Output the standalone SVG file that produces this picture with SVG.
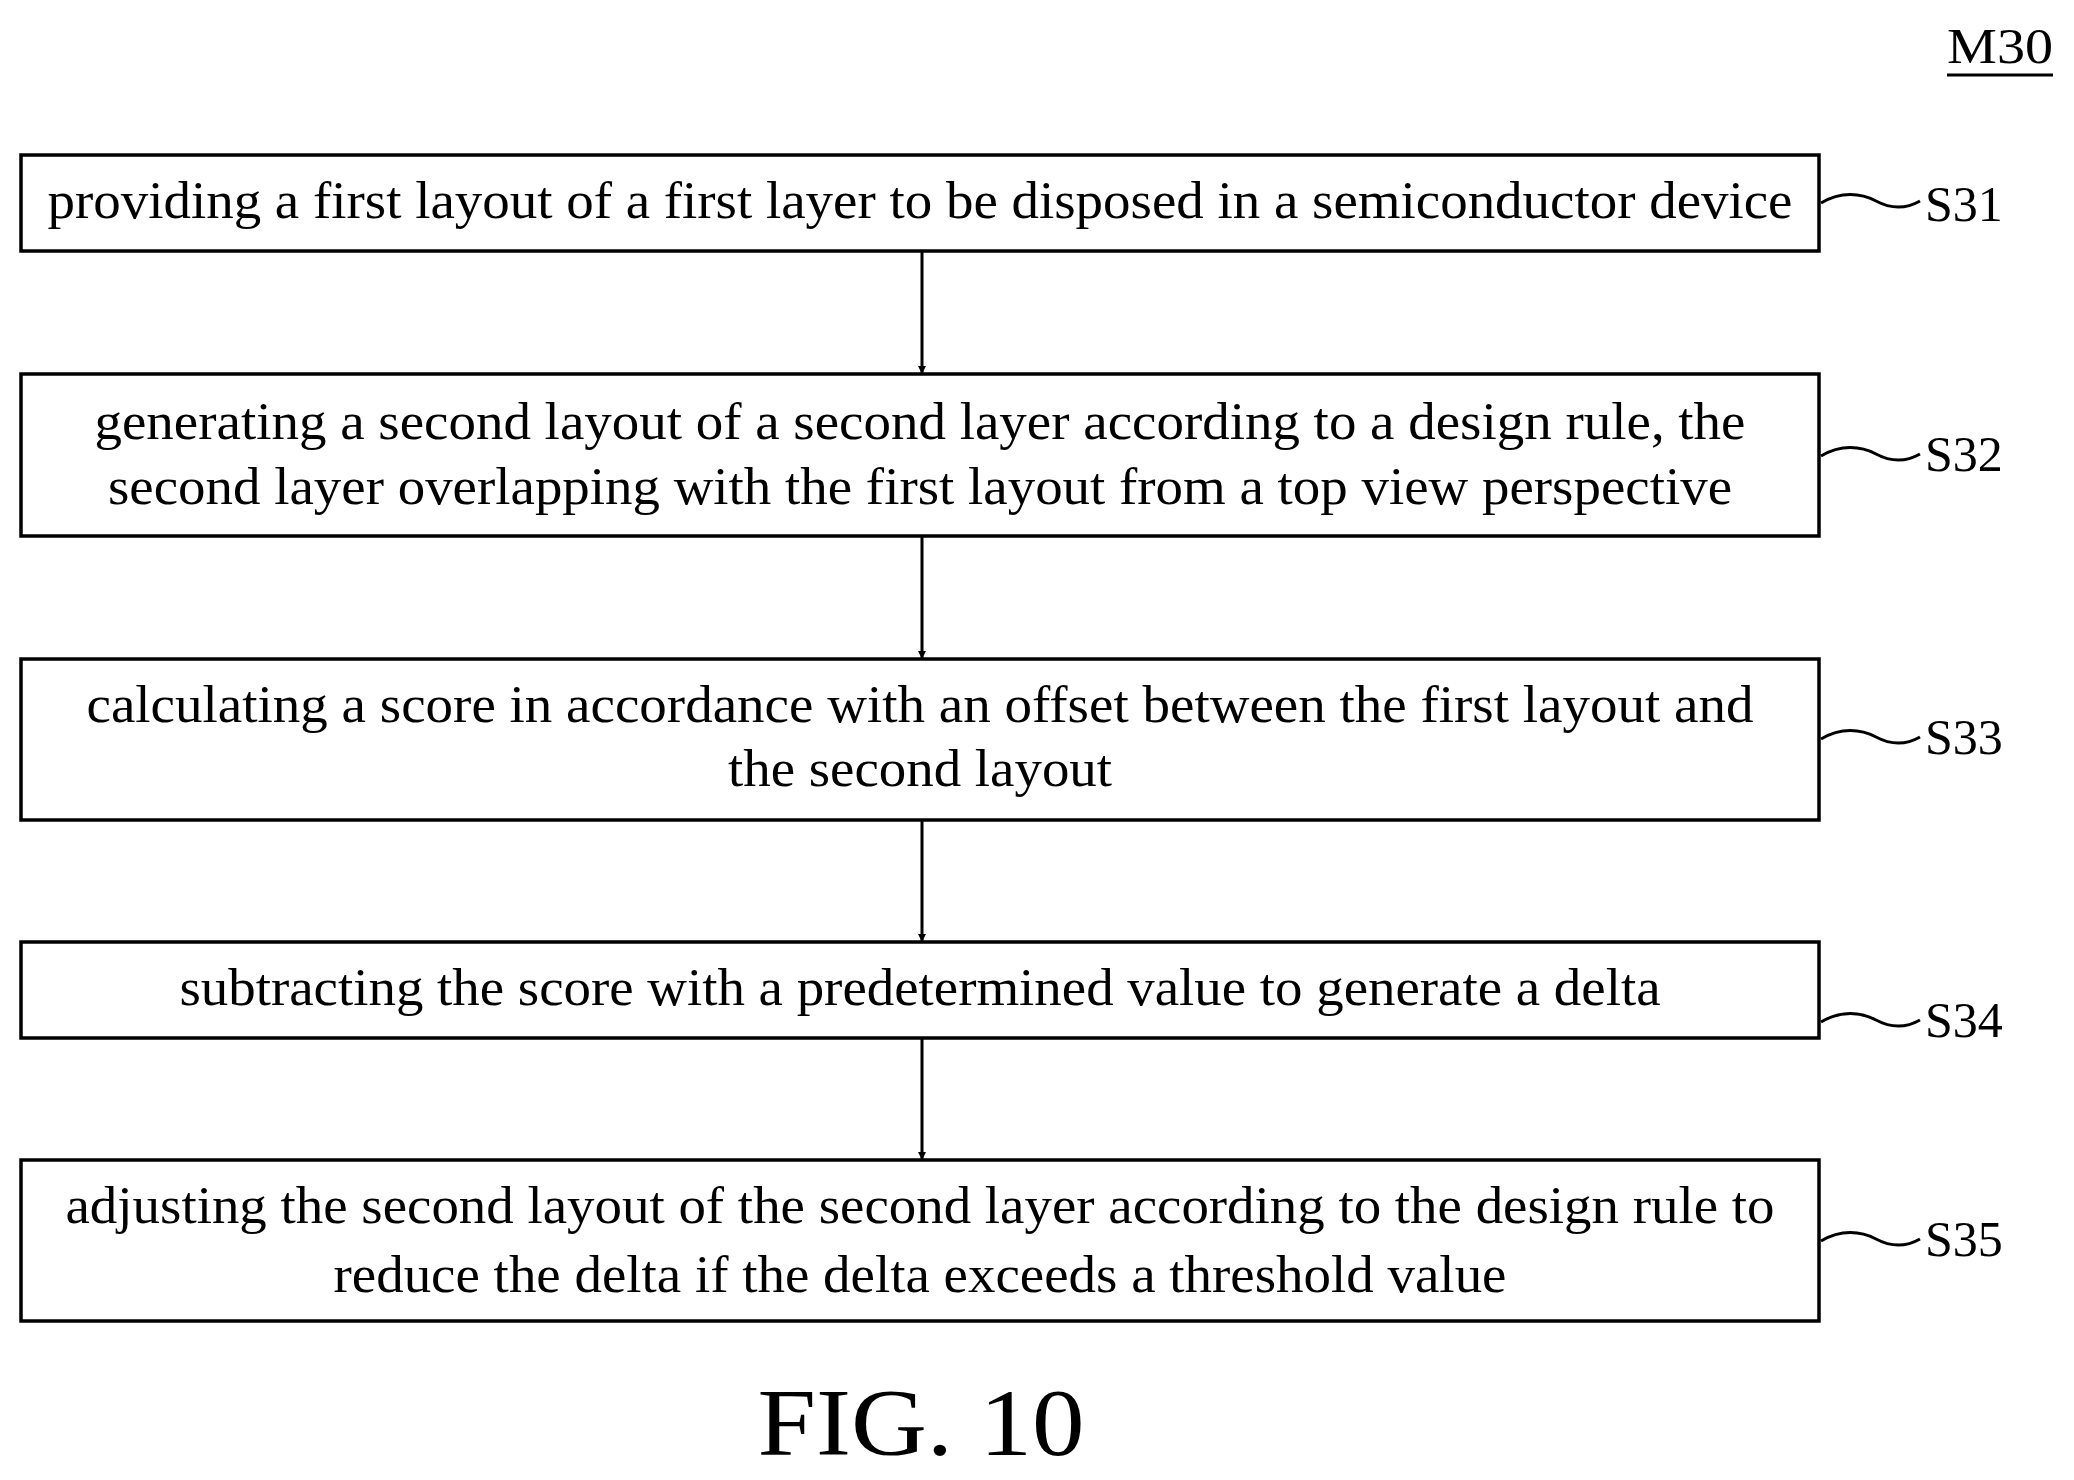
<svg xmlns="http://www.w3.org/2000/svg" width="2074" height="1480" viewBox="0 0 2074 1480">
<defs>
<style>
.b{fill:#fff;stroke:#000;stroke-width:3.5}
.t{font-family:"Liberation Serif",serif;font-size:52px;fill:#000;text-anchor:middle}
.l{font-family:"Liberation Serif",serif;font-size:50px;fill:#000}
.c{fill:none;stroke:#000;stroke-width:3}
</style>
<marker id="a" viewBox="0 0 10 10" refX="10" refY="5" markerWidth="8" markerHeight="8" markerUnits="userSpaceOnUse" orient="auto"><path d="M0,0L10,5L0,10z"/></marker>
</defs>
<rect width="2074" height="1480" fill="#fff"/>
<text class="l" x="1947" y="63" textLength="106" lengthAdjust="spacingAndGlyphs">M30</text>
<line x1="1947" y1="75" x2="2053" y2="75" stroke="#000" stroke-width="3"/>
<g id="S31"><rect class="b" x="21" y="155" width="1798" height="96"/>
<text class="t" x="920" y="218" textLength="1745" lengthAdjust="spacingAndGlyphs">providing a first layout of a first layer to be disposed in a semiconductor device</text></g>
<g id="S32"><rect class="b" x="21" y="374" width="1798" height="162"/>
<text class="t" x="920" y="439" textLength="1651" lengthAdjust="spacingAndGlyphs">generating a second layout of a second layer according to a design rule, the</text>
<text class="t" x="920" y="504" textLength="1624" lengthAdjust="spacingAndGlyphs">second layer overlapping with the first layout from a top view perspective</text></g>
<g id="S33"><rect class="b" x="21" y="659" width="1798" height="161"/>
<text class="t" x="920" y="722" textLength="1667" lengthAdjust="spacingAndGlyphs">calculating a score in accordance with an offset between the first layout and</text>
<text class="t" x="920" y="786" textLength="384" lengthAdjust="spacingAndGlyphs">the second layout</text></g>
<g id="S34"><rect class="b" x="21" y="942" width="1798" height="96"/>
<text class="t" x="920" y="1005" textLength="1481" lengthAdjust="spacingAndGlyphs">subtracting the score with a predetermined value to generate a delta</text></g>
<g id="S35"><rect class="b" x="21" y="1160" width="1798" height="161"/>
<text class="t" x="920" y="1223" textLength="1709" lengthAdjust="spacingAndGlyphs">adjusting the second layout of the second layer according to the design rule to</text>
<text class="t" x="920" y="1292" textLength="1173" lengthAdjust="spacingAndGlyphs">reduce the delta if the delta exceeds a threshold value</text></g>
<g id="labels">
<text class="l" x="1925" y="221">S31</text>
<text class="l" x="1925" y="471">S32</text>
<text class="l" x="1925" y="754">S33</text>
<text class="l" x="1925" y="1037">S34</text>
<text class="l" x="1925" y="1256">S35</text>
</g>
<g id="connectors">
<path class="c" marker-end="url(#a)" d="M922,251V374"/>
<path class="c" marker-end="url(#a)" d="M922,536V659"/>
<path class="c" marker-end="url(#a)" d="M922,820V942"/>
<path class="c" marker-end="url(#a)" d="M922,1038V1160"/>
<path class="c" d="M1821,203c20,-12 40,-10 55,-2s30,8 44,0"/>
<path class="c" d="M1821,456c20,-12 40,-10 55,-2s30,8 44,0"/>
<path class="c" d="M1821,739c20,-12 40,-10 55,-2s30,8 44,0"/>
<path class="c" d="M1821,1022c20,-12 40,-10 55,-2s30,8 44,0"/>
<path class="c" d="M1821,1241c20,-12 40,-10 55,-2s30,8 44,0"/>
</g>
<text x="921" y="1455" font-family="Liberation Serif,serif" font-size="96" text-anchor="middle" textLength="327" lengthAdjust="spacingAndGlyphs">FIG. 10</text>
</svg>
